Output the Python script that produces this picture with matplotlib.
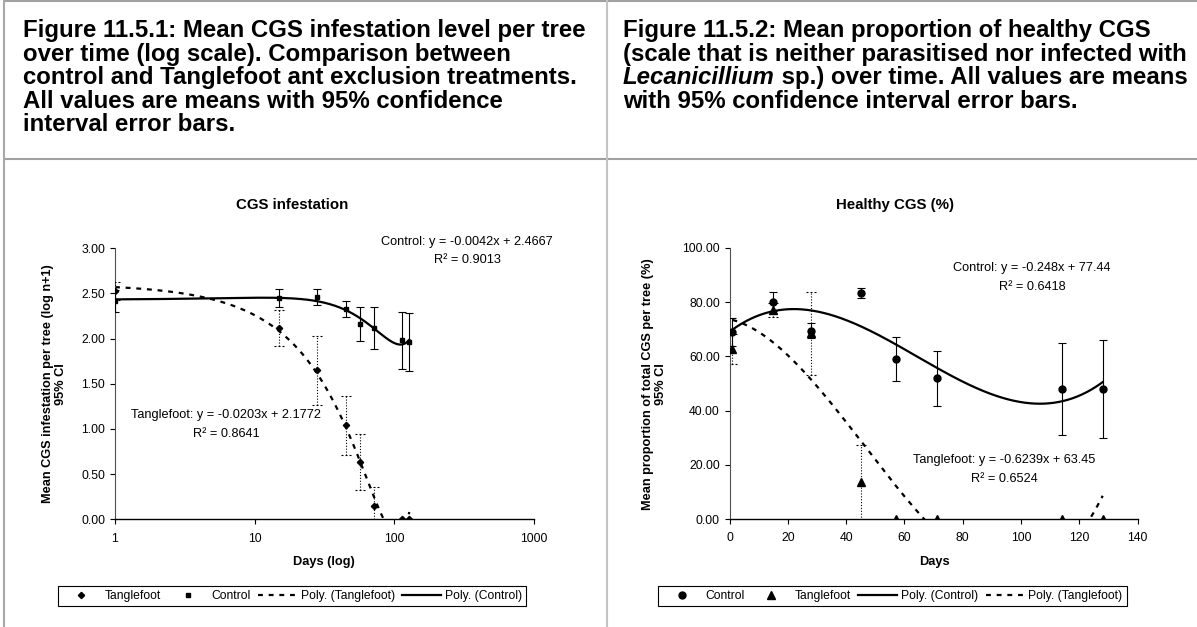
import numpy as np
import matplotlib
matplotlib.use("Agg")
import matplotlib.pyplot as plt
from matplotlib.path import Path
from matplotlib.lines import Line2D
from matplotlib.ticker import FixedLocator, FixedFormatter, NullLocator, FormatStrFormatter, MultipleLocator

plt.rcParams['font.family'] = ['Liberation Sans', 'DejaVu Sans']

# ---------------- data ----------------
days = [1, 15, 28, 45, 57, 71, 114, 128]

# Figure 11.5.1 : CGS infestation (log n+1), mean and 95% CI half-width
inf_control = [2.42, 2.45, 2.46, 2.33, 2.16, 2.12, 1.98, 1.96]
inf_control_ci = [0.12, 0.10, 0.09, 0.09, 0.19, 0.23, 0.32, 0.32]
inf_tangle = [2.53, 2.12, 1.65, 1.04, 0.63, 0.15, 0.0, 0.0]
inf_tangle_ci = [0.10, 0.20, 0.38, 0.33, 0.31, 0.21, 0.0, 0.0]

# Figure 11.5.2 : healthy CGS (%), mean and 95% CI half-width
hl_control = [68.9, 80.2, 69.5, 83.5, 58.9, 51.9, 48.0, 48.0]
hl_control_ci = [5.2, 3.4, 2.8, 1.9, 8.1, 10.2, 16.9, 18.1]
hl_tangle = [62.7, 77.1, 68.5, 13.5, 0.0, 0.0, 0.0, 0.0]
hl_tangle_ci = [5.5, 2.5, 15.2, 13.8, 0.0, 0.0, 0.0, 0.0]

left_xticks = [1, 10, 100, 1000]
left_xticklabels = ['1', '10', '100', '1000']

header_left = ["Figure 11.5.1: Mean CGS infestation level per tree",
               "over time (log scale). Comparison between",
               "control and Tanglefoot ant exclusion treatments.",
               "All values are means with 95% confidence",
               "interval error bars."]
header_right = ["Figure 11.5.2: Mean proportion of healthy CGS",
                "(scale that is neither parasitised nor infected with",
                None,
                "with 95% confidence interval error bars."]
header_right_italic = "Lecanicillium"
header_right_rest = " sp.) over time. All values are means"

POLY_DEG = 3

# ---------------- figure ----------------
W, H = 1197, 627
fig = plt.figure(figsize=(W / 100, H / 100), dpi=100)

def fx(px):
    return px / W

def fy(py):
    return 1 - py / H

# table borders
def hline(y, x0, x1, color, lw):
    fig.add_artist(Line2D([fx(x0), fx(x1)], [fy(y), fy(y)], transform=fig.transFigure,
                          color=color, lw=lw, solid_capstyle='butt'))

def vline(x, y0, y1, color, lw):
    fig.add_artist(Line2D([fx(x), fx(x)], [fy(y0), fy(y1)], transform=fig.transFigure,
                          color=color, lw=lw, solid_capstyle='butt'))

hline(1.0, 3, W, '#a0a0a0', 1.5)
hline(159, 3, W, '#a0a0a0', 1.5)
vline(4, 0, H, '#a8a8a8', 1.5)
vline(607, 0, H, '#c4c4c4', 1.5)

# header texts
HFS = 17.3
base0, pitch = 37, 23.5
for i, line in enumerate(header_left):
    fig.text(fx(23), fy(base0 + i * pitch), line, fontsize=HFS, fontweight='bold',
             ha='left', va='baseline')
for i, line in enumerate(header_right):
    if line is None:
        t1 = fig.text(fx(623), fy(base0 + i * pitch), header_right_italic, fontsize=HFS,
                      fontweight='bold', style='italic', ha='left', va='baseline')
        fig.canvas.draw()
        bb = t1.get_window_extent()
        fig.text(bb.x1 / W, fy(base0 + i * pitch), header_right_rest, fontsize=HFS,
                 fontweight='bold', ha='left', va='baseline')
    else:
        fig.text(fx(623), fy(base0 + i * pitch), line, fontsize=HFS, fontweight='bold',
                 ha='left', va='baseline')

# axes
ax1 = fig.add_axes([fx(115), fy(519.3), fx(534) - fx(115), fy(248.3) - fy(519.3)])
ax2 = fig.add_axes([fx(729.5), fy(519), fx(1137.7) - fx(729.5), fy(248) - fy(519)])

for ax in (ax1, ax2):
    ax.set_facecolor('none')
    ax.spines['top'].set_visible(False)
    ax.spines['right'].set_visible(False)
    ax.spines['left'].set_color('#505050')
    ax.spines['left'].set_linewidth(0.8)
    ax.spines['bottom'].set_color('black')
    ax.spines['bottom'].set_linewidth(1.0)
    ax.tick_params(axis='both', direction='out', length=3.6, width=0.8, labelsize=8.8,
                   colors='black')
    ax.tick_params(axis='y', pad=3.4)
    ax.tick_params(axis='x', pad=6.0)
    ax.yaxis.set_major_formatter(FormatStrFormatter('%.2f'))

cap_path = Path([(-1, 0), (-0.6, 0), (-0.2, 0), (0.2, 0), (0.6, 0), (1, 0)],
                [Path.MOVETO, Path.LINETO] * 3)

def solid_err(ax, x, y, ci):
    ax.errorbar(x, y, yerr=ci, fmt='none', ecolor='black', elinewidth=0.8,
                capsize=3.2, capthick=0.8, zorder=3)

def dotted_err(ax, x, y, ci):
    x = np.asarray(x, float); y = np.asarray(y, float); ci = np.asarray(ci, float)
    m = ci > 0
    ax.vlines(x[m], (y - ci)[m], (y + ci)[m], colors='black',
              linestyles=[(0, (1.0, 1.6))], lw=0.8, zorder=3)
    for yy in ((y + ci)[m], (y - ci)[m]):
        ax.plot(x[m], yy, ls='none', marker=cap_path, ms=6.5, mfc='none', mec='black',
                mew=0.8, zorder=3)

DASH = (0, (2.2, 2.6))

# ---- left chart ----
xs_log = np.geomspace(days[0], days[-1], 400)
ax1.plot(xs_log, np.polyval(np.polyfit(days, inf_tangle, POLY_DEG), xs_log),
         color='black', lw=1.6, ls=DASH, zorder=2)
ax1.plot(xs_log, np.polyval(np.polyfit(days, inf_control, POLY_DEG), xs_log),
         color='black', lw=1.6, ls='-', zorder=2)
solid_err(ax1, days, inf_control, inf_control_ci)
dotted_err(ax1, days, inf_tangle, inf_tangle_ci)
ax1.plot(days, inf_tangle, ls='none', marker='D', ms=3.2, color='black', zorder=4)
ax1.plot(days, inf_control, ls='none', marker='s', ms=3.2, color='black', zorder=4)
ax1.set_xscale('log')
ax1.set_xlim(1, 1000)
ax1.set_ylim(0, 3)
ax1.xaxis.set_major_locator(FixedLocator(left_xticks))
ax1.xaxis.set_major_formatter(FixedFormatter(left_xticklabels))
ax1.xaxis.set_minor_locator(NullLocator())
ax1.yaxis.set_major_locator(MultipleLocator(0.5))

# ---- right chart ----
xs_lin = np.linspace(days[0], days[-1], 400)
ax2.plot(xs_lin, np.polyval(np.polyfit(days, hl_control, POLY_DEG), xs_lin),
         color='black', lw=1.6, ls='-', zorder=2)
ax2.plot(xs_lin, np.polyval(np.polyfit(days, hl_tangle, POLY_DEG), xs_lin),
         color='black', lw=1.6, ls=DASH, zorder=2)
solid_err(ax2, days, hl_control, hl_control_ci)
dotted_err(ax2, days, hl_tangle, hl_tangle_ci)
ax2.plot(days, hl_control, ls='none', marker='o', ms=5, color='black', zorder=4)
ax2.plot(days, hl_tangle, ls='none', marker='^', ms=5.5, color='black', zorder=4)
ax2.set_xlim(0, 140)
ax2.set_ylim(0, 100)
ax2.xaxis.set_major_locator(MultipleLocator(20))
ax2.yaxis.set_major_locator(MultipleLocator(20))

# ---- chart texts ----
fig.text(fx(292), fy(205), "CGS infestation", fontsize=10.8, fontweight='bold',
         ha='center', va='center')
fig.text(fx(895), fy(205), "Healthy CGS (%)", fontsize=10.8, fontweight='bold',
         ha='center', va='center')
fig.text(fx(324), fy(562), "Days (log)", fontsize=9.2, fontweight='bold', ha='center', va='center')
fig.text(fx(934), fy(562), "Days", fontsize=9.2, fontweight='bold', ha='center', va='center')
fig.text(fx(54.5), fy(384), "Mean CGS infestation per tree (log n+1)\n95% CI", fontsize=9.2,
         fontweight='bold', rotation=90, ha='center', va='center', multialignment='center',
         linespacing=1.1)
fig.text(fx(654.5), fy(384), "Mean proportion of total CGS per tree (%)\n95% CI", fontsize=9.2,
         fontweight='bold', rotation=90, ha='center', va='center', multialignment='center',
         linespacing=1.1)

AFS = 9.2
def eq(xc, y1, y2, s1, s2):
    fig.text(fx(xc), fy(y1), s1, fontsize=AFS, ha='center', va='center')
    fig.text(fx(xc), fy(y2), s2, fontsize=AFS, ha='center', va='center')

eq(467, 242, 260, "Control: y = -0.0042x + 2.4667", "R² = 0.9013")
eq(226, 415, 434, "Tanglefoot: y = -0.0203x + 2.1772", "R² = 0.8641")
eq(1032, 268, 287, "Control: y = -0.248x + 77.44", "R² = 0.6418")
eq(1004.5, 460, 479, "Tanglefoot: y = -0.6239x + 63.45", "R² = 0.6524")

# ---- legends ----
def mk(marker, ms, label):
    return Line2D([], [], ls='none', marker=marker, ms=ms, color='black', label=label)

def ln(ls, label):
    return Line2D([], [], ls=ls, lw=1.6, color='black', label=label)

leg_kw = dict(loc='center', ncol=4, frameon=True, fancybox=False, edgecolor='black',
              framealpha=1, fontsize=8.7, handlelength=3.2, handletextpad=0.35,
              columnspacing=0.6, borderpad=0.35, borderaxespad=0)
h1 = [mk('D', 3.2, 'Tanglefoot'), mk('s', 3.2, 'Control'),
      ln(DASH, 'Poly. (Tanglefoot)'), ln('-', 'Poly. (Control)')]
l1 = fig.legend(handles=h1, bbox_to_anchor=(fx(292), fy(596)), **leg_kw)
l1.get_frame().set_linewidth(0.8)
h2 = [mk('o', 5, 'Control'), mk('^', 5.5, 'Tanglefoot'),
      ln('-', 'Poly. (Control)'), ln(DASH, 'Poly. (Tanglefoot)')]
l2 = fig.legend(handles=h2, bbox_to_anchor=(fx(892.5), fy(596)), **leg_kw)
l2.get_frame().set_linewidth(0.8)

fig.savefig("out.png", dpi=100)
